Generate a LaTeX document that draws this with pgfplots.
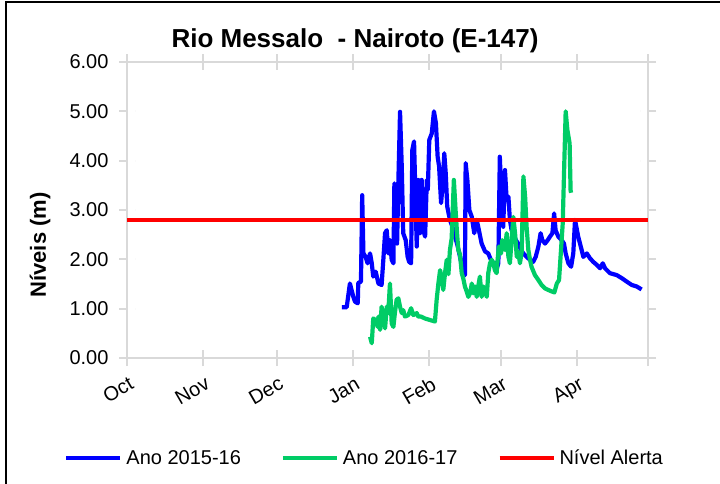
\documentclass[border=0pt]{standalone}
\usepackage{pgfplots}
\pgfplotsset{compat=1.18}
\usepackage{fontspec}
\setmainfont{Liberation Sans}
\definecolor{ano1516}{HTML}{0000FF}
\definecolor{ano1617}{HTML}{00CC66}
\definecolor{alerta}{HTML}{FF0000}
\definecolor{eixo}{HTML}{D9D9D9}

\begin{document}
\begin{tikzpicture}
\path[use as bounding box] (0bp,0bp) rectangle (720bp,-484bp);
\draw[line width=2.5bp] (6bp,-484bp) -- (6bp,-2bp) -- (720bp,-2bp);
\begin{axis}[
    at={(127bp,-358bp)}, anchor=south west,
    width=521bp, height=296bp, scale only axis,
    xmin=0, xmax=212, ymin=0, ymax=6,
    xtick={0,31,61,92,123,152,183,212},
    xticklabels={Oct,Nov,Dec,Jan,Feb,Mar,Apr,{}},
    ytick={0,1,2,3,4,5,6},
    yticklabel={\pgfmathprintnumber[fixed,fixed zerofill,precision=2]{\tick}},
    /pgf/number format/assume math mode=true,
    axis line style={draw=eixo, line width=2.5bp},
    tick style={draw=eixo, line width=2bp},
    tick align=center, major tick length=16bp,
    major y tick style={dash pattern=on 8bp off 8bp},
    tick label style={font=\fontsize{20bp}{24bp}\selectfont, text=black},
    yticklabel style={xshift=-7bp},
    xticklabel style={rotate=30, anchor=north east, inner sep=0pt, xshift=-4bp, yshift=-9bp},
    title={Rio Messalo\ \ - Nairoto (E-147)},
    title style={at={(axis description cs:0.4376,1.047)}, anchor=base, yshift=-5bp,
        font=\bfseries\fontsize{26bp}{30bp}\selectfont},
    ylabel={Níveis (m)},
    ylabel style={at={(axis description cs:-0.167,0.382)}, rotate=0, anchor=center,
        font=\bfseries\fontsize{22bp}{26bp}\selectfont},
    legend columns=3,
    legend image code/.code={\draw[#1, line width=4bp] (0bp,0bp) -- (54bp,0bp);},
    legend style={at={(axis description cs:-0.1205,-0.3378)}, anchor=west,
        draw=none, fill=none, inner sep=0pt,
        font=\fontsize{20bp}{24bp}\selectfont,
        nodes={inner sep=0pt, anchor=west},
        /tikz/every odd column/.append style={column sep=4bp},
        /tikz/every even column/.append style={column sep=40bp}},
]
\addplot[ano1516, line width=4.2bp, line join=round] coordinates {
(87.4,1.03) (89.4,1.03) (90.7,1.51) (92.1,1.24) (92.8,1.14) (93.9,1.11)
(94.1,1.52) (95.2,1.55) (95.7,3.30) (96.2,2.12) (97.1,2.05) (97.9,1.92)
(98.9,2.12) (99.6,1.92) (100.2,1.65) (101.2,1.75) (102.3,1.51) (103.6,1.48)
(104.3,1.99) (105.0,2.53) (105.7,2.59) (106.3,2.12) (107.0,2.39) (107.7,1.99)
(108.4,1.92) (108.8,3.54) (109.5,3.27) (109.9,2.32) (110.4,3.54) (111.1,4.99)
(111.8,3.88) (112.4,2.53) (113.4,2.39) (114.2,2.05) (114.8,1.95) (115.6,1.92)
(116.1,4.22) (116.8,4.39) (117.9,2.26) (118.5,3.61) (119.2,2.53) (119.9,3.61)
(120.6,2.59) (121.3,2.46) (122.0,3.61) (122.4,3.41) (123.0,4.42) (124.0,4.55)
(124.9,5.00) (125.7,4.76) (126.4,4.08) (127.0,3.88) (127.8,3.14) (128.5,3.54)
(129.1,4.15) (129.7,3.74) (130.3,3.07) (131.4,2.80) (132.4,2.66) (133.5,2.46)
(134.6,2.26) (135.5,2.05) (136.2,1.89) (136.8,1.72) (137.5,1.68) (137.8,3.95)
(138.5,3.61) (139.3,3.00) (140.3,2.86) (141.3,2.53) (142.3,2.80) (143.2,2.59)
(144.3,2.32) (145.7,2.16) (147.0,2.12) (148.4,1.95) (149.7,1.92) (150.4,1.80)
(151.1,1.92) (151.7,4.08) (152.2,3.47) (153.1,2.66) (153.8,3.81) (154.5,3.20)
(155.2,3.27) (155.8,2.80) (156.5,2.59) (157.2,2.53) (158.2,2.39) (159.2,2.32)
(160.3,2.19) (161.3,2.12) (162.6,2.05) (164.0,1.99) (165.3,1.95) (166.3,2.05)
(167.4,2.26) (168.3,2.53) (169.0,2.39) (170.1,2.32) (171.2,2.39) (172.1,2.46)
(173.1,2.53) (173.8,2.93) (174.4,2.59) (175.5,2.46) (176.9,2.39) (177.8,2.32)
(178.5,2.12) (179.6,1.92) (180.7,1.85) (181.6,2.12) (182.3,2.80) (183.6,2.46)
(185.0,2.19) (185.7,2.05) (187.1,2.12) (188.4,2.02) (189.7,1.95) (191.1,1.89)
(192.5,1.82) (193.6,1.92) (194.5,1.82) (196.5,1.72) (199.3,1.68) (201.3,1.62)
(203.3,1.55) (205.4,1.48) (207.4,1.45) (209.4,1.39)
};
\addplot[ano1617, line width=4.2bp, line join=round] coordinates {
(98.9,0.43) (99.6,0.30) (100.2,0.80) (101.2,0.77) (102.0,0.63) (102.3,0.84)
(103.0,0.57) (103.6,1.04) (104.3,0.84) (105.0,0.60) (105.7,1.04) (106.3,0.91)
(107.0,1.51) (107.7,0.70) (108.4,0.63) (109.0,0.91) (109.7,1.18) (110.4,1.21)
(111.1,1.04) (111.8,0.91) (112.4,0.97) (113.1,0.84) (114.5,0.87) (115.6,1.01)
(116.5,0.87) (117.9,0.91) (118.5,0.84) (119.6,0.84) (121.3,0.80) (123.3,0.77)
(125.3,0.74) (126.0,1.18) (126.7,1.51) (127.4,1.78) (128.1,1.62) (128.7,1.38)
(129.4,1.72) (130.1,1.99) (130.8,1.70) (131.4,2.19) (132.1,2.42) (133.0,3.61)
(133.7,3.00) (134.3,2.53) (134.8,2.19) (135.5,2.10) (136.2,1.72) (136.8,1.62)
(137.5,1.45) (138.2,1.35) (138.9,1.24) (139.6,1.31) (140.3,1.51) (140.9,1.31)
(141.6,1.45) (142.3,1.24) (142.9,1.45) (143.6,1.65) (144.3,1.24) (145.0,1.45)
(145.7,1.35) (146.4,1.24) (147.0,1.72) (147.7,1.92) (148.4,1.99) (149.1,1.92)
(149.7,1.78) (150.4,1.72) (150.8,1.99) (151.3,2.26) (152.2,2.12) (152.7,2.39)
(153.8,2.19) (154.5,2.53) (155.2,2.05) (155.8,1.92) (156.5,2.39) (157.2,2.86)
(157.9,2.53) (158.6,2.05) (159.2,2.15) (159.9,1.92) (160.6,2.15) (161.3,3.68)
(162.0,3.27) (162.6,2.66) (163.3,2.19) (164.0,1.99) (164.6,1.85) (166.0,1.68)
(167.4,1.58) (168.7,1.48) (170.1,1.41) (171.4,1.38) (172.8,1.35) (173.9,1.33)
(174.9,1.51) (175.8,1.58) (176.6,2.19) (177.3,2.73) (177.9,3.88) (178.5,5.00)
(179.2,4.62) (180.1,4.35) (180.5,3.40) (180.7,3.35)
};
\addplot[alerta, line width=4bp] coordinates {(0,2.80) (212,2.80)};
\legend{Ano 2015-16, Ano 2016-17, Nível Alerta}
\end{axis}
\end{tikzpicture}
\end{document}
